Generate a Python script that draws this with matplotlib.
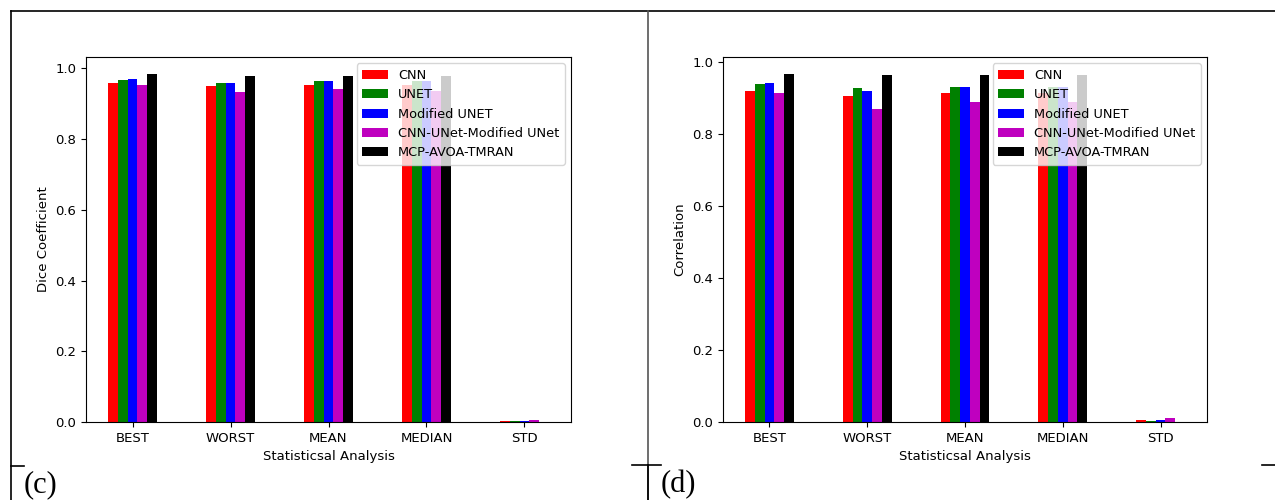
import matplotlib.pyplot as plt, numpy as np

plt.rcParams['font.size'] = 9.5

# categories and methods
stats = ['BEST', 'WORST', 'MEAN', 'MEDIAN', 'STD']
methods = ['CNN', 'UNET', 'Modified UNET', 'CNN-UNet-Modified UNet', 'MCP-AVOA-TMRAN']
colors = ['r', 'g', 'b', 'm', 'k']

# (c) dice coefficient, one list per method over stats
dice_cnn = [0.958, 0.950, 0.954, 0.954, 0.003]
dice_unet = [0.966, 0.960, 0.963, 0.963, 0.003]
dice_munet = [0.969, 0.958, 0.963, 0.963, 0.003]
dice_hybrid = [0.954, 0.932, 0.941, 0.937, 0.005]
dice_ours = [0.983, 0.979, 0.979, 0.979, 0.0005]

# (d) correlation
corr_cnn = [0.921, 0.905, 0.913, 0.913, 0.006]
corr_unet = [0.938, 0.927, 0.931, 0.931, 0.003]
corr_munet = [0.942, 0.921, 0.931, 0.931, 0.005]
corr_hybrid = [0.913, 0.871, 0.890, 0.889, 0.011]
corr_ours = [0.966, 0.964, 0.964, 0.964, 0.0005]

W, H = 1275, 500
BAR_W = 0.1


def plot_group(ax, series, ylabel):
    x = np.arange(len(stats))
    for j, vals in enumerate(series):
        ax.bar(x + (j - 2) * BAR_W, vals, BAR_W, color=colors[j], label=methods[j])
    ax.set_xticks(x)
    ax.set_xticklabels(stats)
    ax.set_xlabel('Statisticsal Analysis')
    ax.set_ylabel(ylabel)
    ax.legend(loc='upper right', fontsize=9.3)


fig = plt.figure(figsize=(W / 100, H / 100), dpi=100)

# axes boxes in pixel coords of the reference
ax1 = fig.add_axes([86 / W, (H - 422) / H, (571 - 86) / W, 365 / H])
ax2 = fig.add_axes([723 / W, (H - 422) / H, (1207 - 723) / W, 365 / H])

plot_group(ax1, [dice_cnn, dice_unet, dice_munet, dice_hybrid, dice_ours], 'Dice Coefficient')
plot_group(ax2, [corr_cnn, corr_unet, corr_munet, corr_hybrid, corr_ours], 'Correlation')

# table borders around the two panels
def px_line(x0, y0, x1, y1, color='black', lw=1.2):
    fig.add_artist(plt.Line2D([x0 / W, x1 / W], [1 - y0 / H, 1 - y1 / H],
                              color=color, lw=lw, transform=fig.transFigure))

px_line(11, 11, W, 11)
px_line(11, 11, 11, H)
px_line(648, 11, 648, H, color='#555555')
px_line(648, 465, 648, H)
px_line(11, 466, 24, 466)
px_line(632, 465, 661, 465)
px_line(1262, 465, W, 465)

fig.text(24 / W, 1 - 492 / H, '(c)', family='Liberation Serif', fontsize=22, va='baseline')
fig.text(661 / W, 1 - 492 / H, '(d)', family='Liberation Serif', fontsize=22, va='baseline')

plt.savefig('out.png', dpi=100)
